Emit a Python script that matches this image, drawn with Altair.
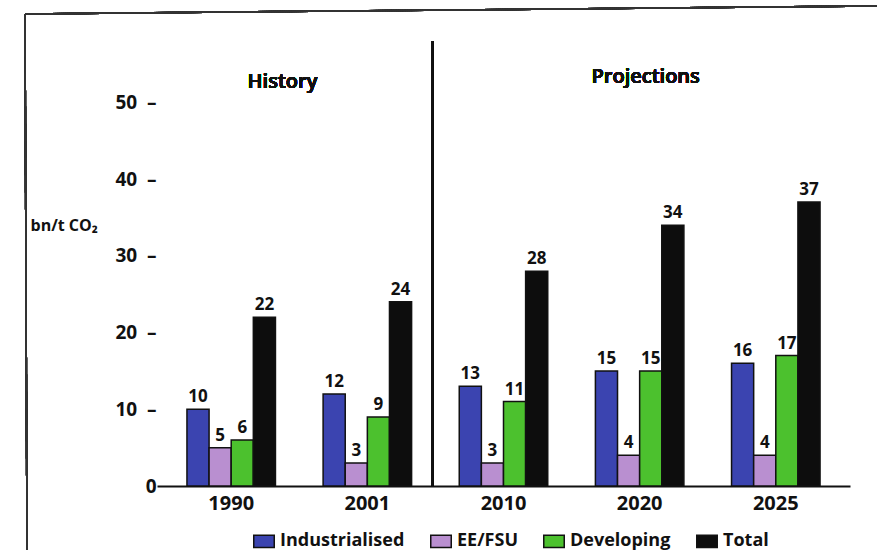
import altair as alt
import pandas as pd

# CO2 emissions by region, billion tonnes
years = ["1990", "2001", "2010", "2020", "2025"]
series = ["Industrialised", "EE/FSU", "Developing", "Total"]
industrialised = [10, 12, 13, 15, 16]
ee_fsu = [5, 3, 3, 4, 4]
developing = [6, 9, 11, 15, 17]
total = [22, 24, 28, 34, 37]
colors = ["#3b44b0", "#b98fd0", "#4cc12e", "#0d0d0d"]
y_ticks = [0, 10, 20, 30, 40, 50]
period_labels = ["History", "Projections"]

rows = []
for name, vals in zip(series, [industrialised, ee_fsu, developing, total]):
    for yr, v in zip(years, vals):
        rows.append({"year": yr, "series": name, "value": v})
df = pd.DataFrame(rows)

FONT = "Open Sans"
INK = "#111111"
W, H = 693, 445

x_scale = alt.Scale(domain=years, paddingInner=0.35, paddingOuter=0.22)
y_scale = alt.Scale(domain=[0, 58], nice=False, zero=True)

x_enc = alt.X(
    "year:N",
    scale=x_scale,
    axis=alt.Axis(
        title=None, labelAngle=0, ticks=False,
        domainColor=INK, domainWidth=2,
        labelFont=FONT, labelFontSize=20, labelFontWeight="bold",
        labelColor=INK, labelPadding=7,
    ),
)
y_enc = alt.Y(
    "value:Q",
    scale=y_scale,
    axis=alt.Axis(
        values=y_ticks, grid=False, ticks=False, domain=False,
        labelExpr="datum.value == 0 ? '0\u00a0\u00a0\u00a0\u00a0' : datum.label + '\u00a0\u00a0\u2013'",
        labelFont=FONT, labelFontSize=19, labelFontWeight="bold",
        labelColor=INK, labelPadding=1,
        title="bn/t CO\u2082", titleAngle=0, titleFont=FONT,
        titleFontSize=16, titleFontWeight="bold", titleColor=INK,
        titleAlign="left", titleBaseline="middle",
        titleX=-127, titleY=184,
    ),
)
offset_enc = alt.XOffset("series:N", sort=series, scale=alt.Scale(domain=series, paddingInner=0))
color_enc = alt.Color(
    "series:N",
    sort=series,
    scale=alt.Scale(domain=series, range=colors),
    legend=alt.Legend(
        title=None, orient="none", direction="horizontal", columns=4,
        legendX=96, legendY=489, columnPadding=22,
        symbolType="M-1,-0.6L1,-0.6L1,0.6L-1,0.6Z", symbolSize=420,
        symbolStrokeColor=INK, symbolStrokeWidth=1.5, symbolOpacity=1,
        labelFont=FONT, labelFontSize=18, labelFontWeight="bold",
        labelColor=INK, labelOffset=5, labelLimit=300,
    ),
)

bars = alt.Chart(df).mark_bar(stroke=INK, strokeWidth=1.5, opacity=1).encode(
    x=x_enc, xOffset=offset_enc, y=y_enc, color=color_enc
)

value_labels = alt.Chart(df).mark_text(
    baseline="bottom", dy=-3, font=FONT, fontSize=17, fontWeight="bold", color=INK
).encode(x=alt.X("year:N", scale=x_scale), xOffset=offset_enc, y=alt.Y("value:Q", scale=y_scale), text="value:Q")

# vertical line separating history from projections
divider = alt.Chart(df).mark_rule(color=INK, strokeWidth=1.5, xOffset=21).encode(
    x=alt.X(datum="2001", bandPosition=1),
    y=alt.value(0),
    y2=alt.value(H),
)

history_title = alt.Chart(df).mark_text(
    font=FONT, fontSize=20, fontWeight=600, color=INK, baseline="middle", dx=7
).encode(x=alt.X(datum="1990", bandPosition=1), y=alt.Y(datum=52.7), text=alt.value(period_labels[0]))

projection_title = alt.Chart(df).mark_text(
    font=FONT, fontSize=20, fontWeight=600, color=INK, baseline="middle", dx=6
).encode(x=alt.X(datum="2020", bandPosition=0.5), y=alt.Y(datum=53.3), text=alt.value(period_labels[1]))

# page frame around the figure
frame_top = alt.Chart(df).mark_rule(color="#333333", strokeWidth=1.5).encode(
    x=alt.value(-132), x2=alt.value(720), y=alt.value(-27), y2=alt.value(-35)
)
frame_left = alt.Chart(df).mark_rule(color="#333333", strokeWidth=1.5).encode(
    x=alt.value(-132), x2=alt.value(-130), y=alt.value(-27), y2=alt.value(509)
)

chart = alt.layer(
    bars, value_labels, divider, history_title, projection_title, frame_top, frame_left
).properties(
    width=W, height=H,
    autosize=alt.AutoSizeParams(type="none"),
    padding={"left": 157, "top": 41, "right": 27, "bottom": 64},
    background="white",
).configure_view(stroke=None)

chart.save("out.html", embed_options={"renderer": "svg", "actions": False})
